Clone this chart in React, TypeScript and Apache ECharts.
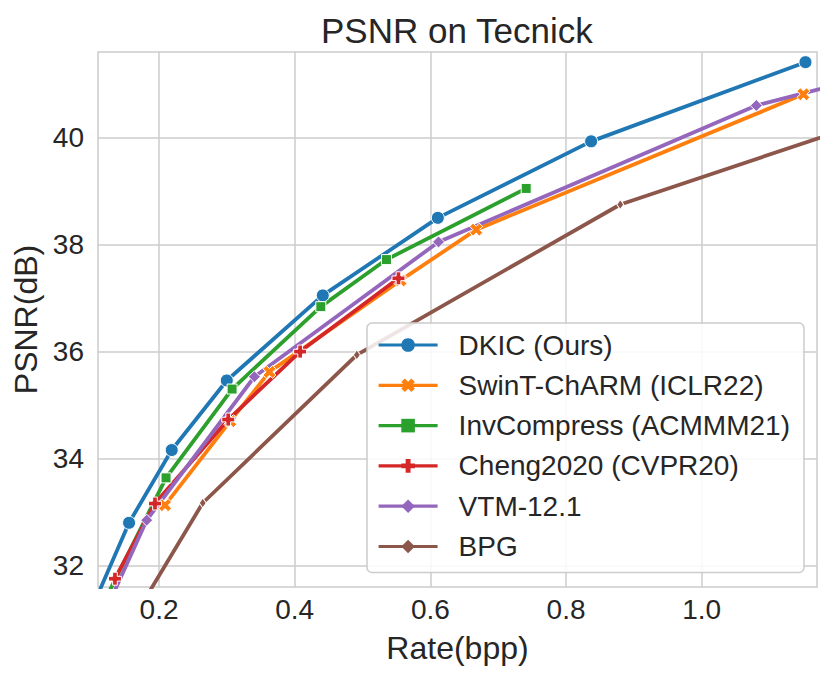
import React, { useEffect, useRef } from "react";
import * as echarts from "echarts";

const seriesNames = [
  "DKIC (Ours)",
  "SwinT-ChARM (ICLR22)",
  "InvCompress (ACMMM21)",
  "Cheng2020 (CVPR20)",
  "VTM-12.1",
  "BPG",
];

const dkicRate = [0.105, 0.1558, 0.2187, 0.2999, 0.4414, 0.611, 0.837, 1.153];
const dkicPsnr = [31.32, 32.8, 34.16, 35.46, 37.05, 38.5, 39.93, 41.41];

const swinRate = [0.2088, 0.305, 0.3627, 0.556, 0.6676, 1.15];
const swinPsnr = [33.13, 34.7, 35.62, 37.33, 38.28, 40.81];

const invRate = [0.128, 0.2103, 0.3077, 0.4385, 0.5353, 0.7413];
const invPsnr = [31.55, 33.64, 35.3, 36.84, 37.72, 39.05];

const chengRate = [0.135, 0.194, 0.302, 0.408, 0.553];
const chengPsnr = [31.755, 33.16, 34.73, 36.0, 37.37];

const vtmRate = [0.13, 0.1818, 0.3406, 0.612, 1.0805, 1.22];
const vtmPsnr = [31.4, 32.85, 35.53, 38.05, 40.6, 41.06];

const bpgRate = [0.18, 0.2644, 0.4916, 0.88, 1.25];
const bpgPsnr = [31.39, 33.17, 35.94, 38.75, 40.32];

const xTicks = [0.2, 0.4, 0.6, 0.8, 1.0];
const yTicks = [32, 34, 36, 38, 40];

const colors = ["#1f77b4", "#ff7f0e", "#2ca02c", "#d62728", "#9467bd", "#8c564b"];

const X_PATH =
  "path://M0,2.6 L2.6,0 L5,2.4 L7.4,0 L10,2.6 L7.6,5 L10,7.4 L7.4,10 L5,7.6 L2.6,10 L0,7.4 L2.4,5 Z";
const P_PATH =
  "path://M3.2,0 L6.8,0 L6.8,3.2 L10,3.2 L10,6.8 L6.8,6.8 L6.8,10 L3.2,10 L3.2,6.8 L0,6.8 L0,3.2 L3.2,3.2 Z";

const FONT = "Liberation Sans, Arial, Helvetica, sans-serif";
const TEXT = "#262626";

function pairs(xs: number[], ys: number[]) {
  return xs.map((x, i) => [x, ys[i]]);
}

export default function App() {
  const ref = useRef<HTMLDivElement>(null);
  useEffect(() => {
    document.body.style.margin = "0";
    const chart = echarts.init(ref.current!, null, { renderer: "svg" });
    const data = [
      pairs(dkicRate, dkicPsnr),
      pairs(swinRate, swinPsnr),
      pairs(invRate, invPsnr),
      pairs(chengRate, chengPsnr),
      pairs(vtmRate, vtmPsnr),
      pairs(bpgRate, bpgPsnr),
    ];
    const symbols: any[] = ["circle", X_PATH, "rect", P_PATH, "diamond", "diamond"];
    const sizes: any[] = [13, 13, 10, 13, 12, [7, 10]];
    chart.setOption({
      animation: false,
      backgroundColor: "#ffffff",
      textStyle: { fontFamily: FONT, color: TEXT },
      title: {
        text: "PSNR on Tecnick",
        left: 316,
        top: 8,
        textStyle: { fontFamily: FONT, fontSize: 35, fontWeight: "normal", color: TEXT },
      },
      grid: {
        left: 98,
        top: 52,
        width: 719,
        height: 535,
        show: true,
        borderColor: "#cccccc",
        borderWidth: 1.5,
        backgroundColor: "transparent",
      },
      xAxis: {
        type: "value",
        min: 0.11,
        max: 1.17,
        name: "Rate(bpp)",
        nameLocation: "middle",
        nameGap: 45,
        nameTextStyle: { fontFamily: FONT, fontSize: 32, color: TEXT },
        axisLine: { show: false },
        axisTick: { show: false, customValues: xTicks },
        axisLabel: {
          customValues: xTicks,
          margin: 8,
          fontFamily: FONT,
          fontSize: 28,
          color: TEXT,
          formatter: (v: number) => v.toFixed(1),
        },
        splitLine: { show: true, lineStyle: { color: "#cccccc", width: 1.5 } },
      },
      yAxis: {
        type: "value",
        min: 31.6,
        max: 41.6,
        name: "PSNR(dB)",
        nameLocation: "middle",
        nameGap: 52,
        nameTextStyle: { fontFamily: FONT, fontSize: 32, color: TEXT },
        axisLine: { show: false },
        axisTick: { show: false, customValues: yTicks },
        axisLabel: {
          customValues: yTicks,
          margin: 14,
          fontFamily: FONT,
          fontSize: 28,
          color: TEXT,
          formatter: (v: number) => String(Math.round(v)),
        },
        splitLine: { show: true, lineStyle: { color: "#cccccc", width: 1.5 } },
      },
      legend: {
        orient: "vertical",
        left: 367,
        top: 323,
        padding: [8, 14, 12, 10],
        itemWidth: 59,
        itemHeight: 17,
        itemGap: 12.3,
        backgroundColor: "rgba(255,255,255,0.85)",
        borderColor: "#cccccc",
        borderWidth: 1.5,
        borderRadius: 5,
        lineStyle: { width: 3.2 },
        itemStyle: { borderWidth: 0 },
        textStyle: {
          fontFamily: FONT,
          fontSize: 28,
          color: TEXT,
          lineHeight: 28,
          padding: [0, 0, 0, 16],
        },
        data: seriesNames,
      },
      series: seriesNames.map((name, i) => ({
        name,
        type: "line",
        data: data[i],
        clip: true,
        symbol: symbols[i],
        symbolSize: sizes[i],
        showSymbol: true,
        lineStyle: { color: colors[i], width: 3.8 },
        itemStyle: { color: colors[i], borderColor: "#ffffff", borderWidth: 1 },
        emphasis: { disabled: true },
      })),
    });
    return () => chart.dispose();
  }, []);
  return <div ref={ref} style={{ width: 831, height: 680 }} />;
}
